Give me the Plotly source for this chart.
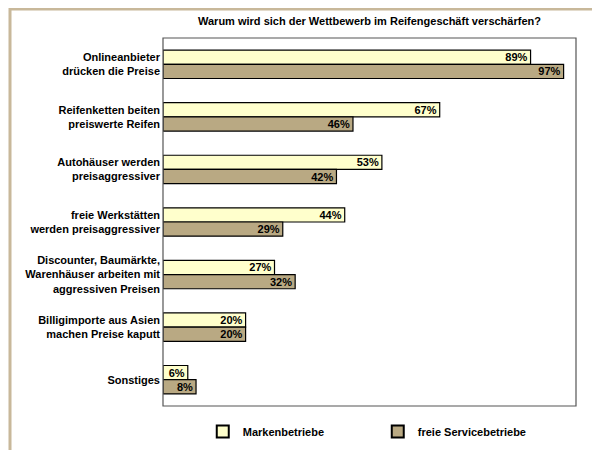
import plotly.graph_objects as go

categories = ["Onlineanbieter<br>drücken die Preise", "Reifenketten beiten<br>preiswerte Reifen",
              "Autohäuser werden<br>preisaggressiver", "freie Werkstätten<br>werden preisaggressiver",
              "Discounter, Baumärkte,<br>Warenhäuser arbeiten mit<br>aggressiven Preisen",
              "Billigimporte aus Asien<br>machen Preise kaputt", "Sonstiges"]
marken = [89, 67, 53, 44, 27, 20, 6]
service = [97, 46, 42, 29, 32, 20, 8]

font = dict(family="Liberation Sans, Arial", size=11, color="black")
fig = go.Figure()
fig.add_bar(y=categories, x=marken, orientation="h", name="Markenbetriebe",
            marker=dict(color="#FFFFCC", line=dict(color="black", width=1.2)),
            text=[f"<b>{v}%</b>" for v in marken], textposition="inside", insidetextanchor="end",
            constraintext="none", textfont=font)
fig.add_bar(y=categories, x=service, orientation="h", name="freie Servicebetriebe",
            marker=dict(color="#B9A983", line=dict(color="black", width=1.2)),
            text=[f"<b>{v}%</b>" for v in service], textposition="inside", insidetextanchor="end",
            constraintext="none", textfont=font)
fig.update_layout(
    width=600, height=450, barmode="group", bargap=0.46, bargroupgap=0,
    margin=dict(l=155, r=32, t=30, b=52, autoexpand=False),
    paper_bgcolor="white", plot_bgcolor="white", font=font,
    title=dict(text="<b>Warum wird sich der Wettbewerb im Reifengeschäft verschärfen?</b>",
               x=0.5, xref="paper", y=0.97, yanchor="middle", font=dict(size=11)),
    xaxis=dict(range=[0, 100], visible=False, automargin=False),
    yaxis=dict(autorange="reversed", showline=False, ticks="", automargin=False,
               ticklabelstandoff=2, tickfont=dict(size=11, weight="bold")),
    legend=dict(orientation="h", x=0.52, xanchor="center", y=-0.03, yanchor="top",
                font=dict(size=11, weight="bold"), itemwidth=30, itemsizing="constant",
                tracegroupgap=0, entrywidth=130),
    shapes=[
        dict(type="rect", xref="paper", yref="paper", x0=0, x1=1, y0=0, y1=1,
             line=dict(color="#555", width=1.2)),
        dict(type="rect", xref="paper", yref="paper", x0=-153/413, x1=1 + 29/413,
             y0=-50/368, y1=1 + 29/368, line=dict(color="#C8B89A", width=3)),
    ],
)
fig.write_html("out.html")
